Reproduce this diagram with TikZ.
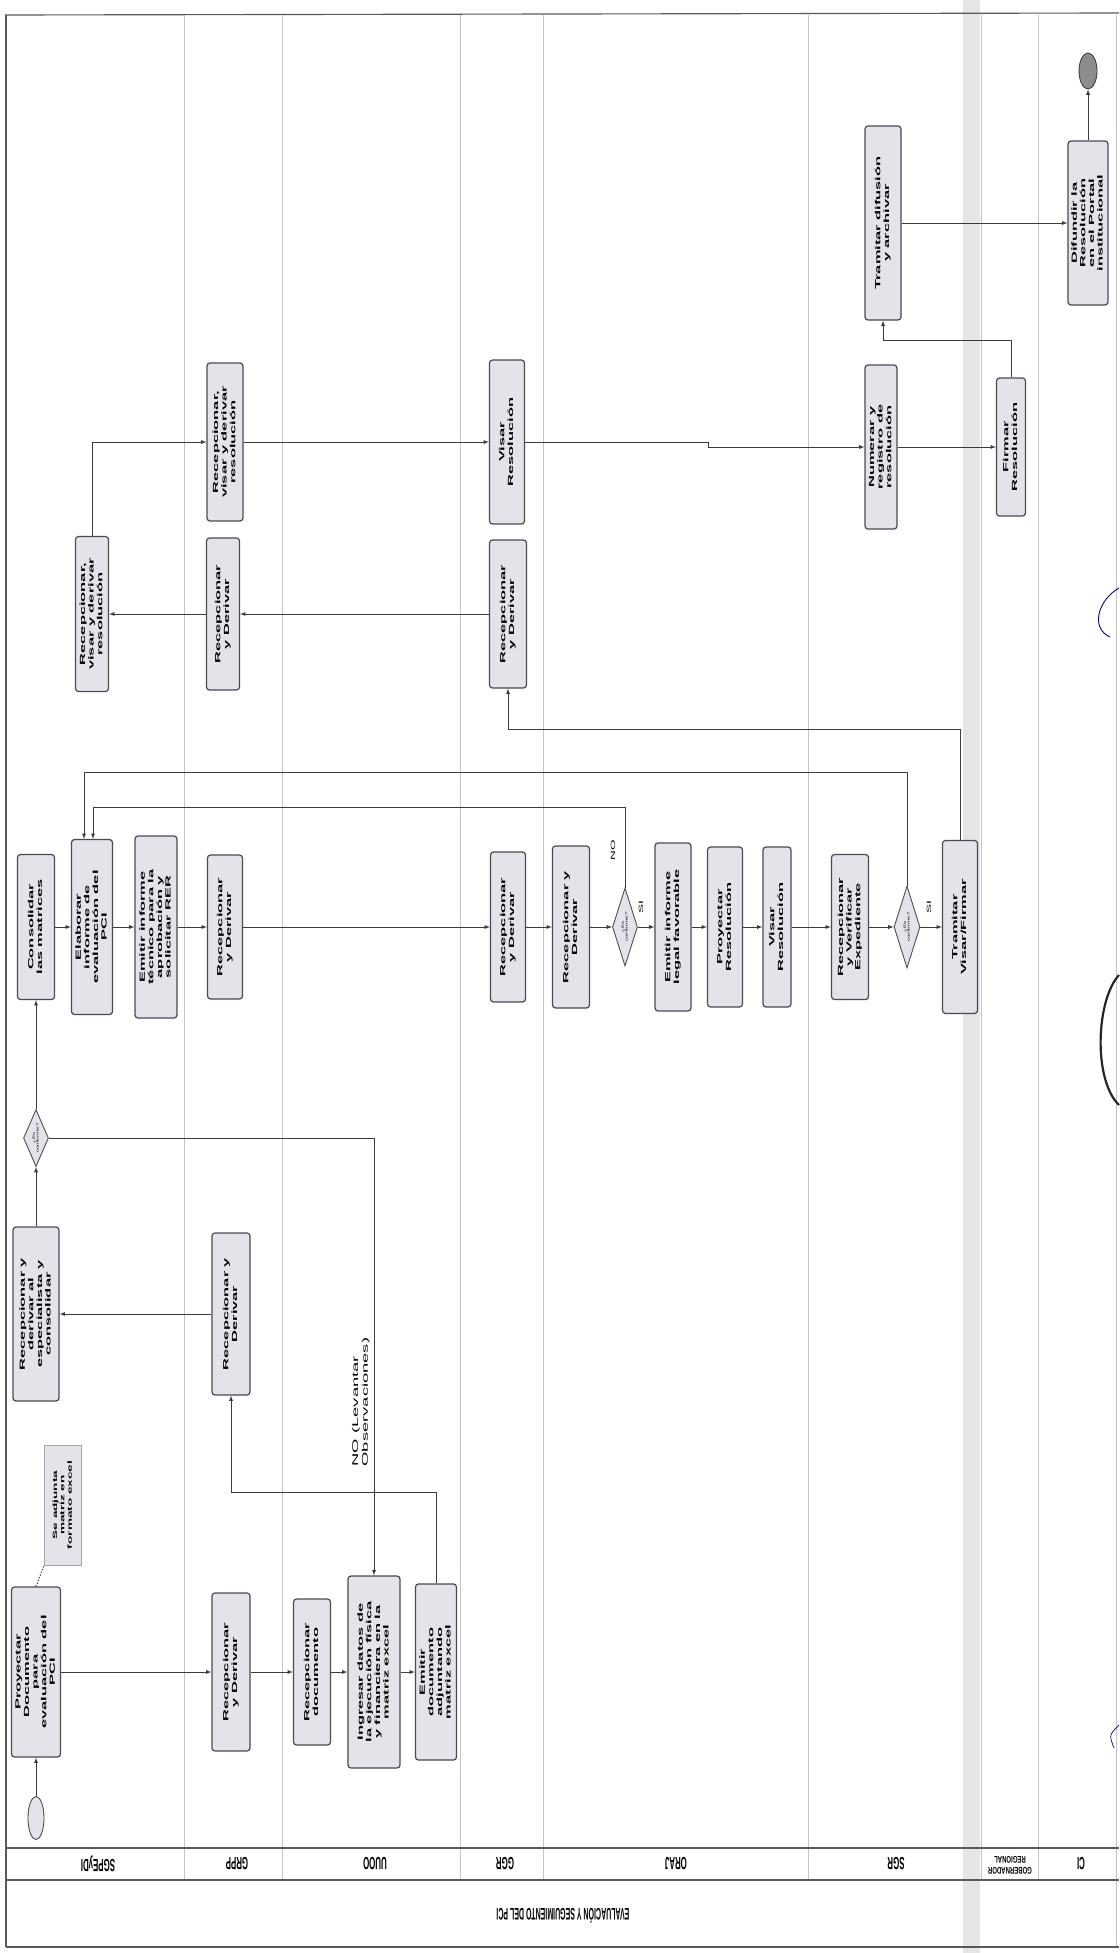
\documentclass[tikz,border=0pt]{standalone}
\usepackage{fontspec}
\setmainfont{Liberation Sans}
\usetikzlibrary{shapes.geometric}
\definecolor{boxfill}{HTML}{E3E3EA}
\definecolor{boxline}{HTML}{4A4A55}
\definecolor{lanegray}{HTML}{C2C2D2}
\definecolor{flowgray}{HTML}{3A3A42}
\tikzset{
  task/.style 2 args={draw=boxline, fill=boxfill, line width=1.4pt, rounded corners=1.2mm,
    inner sep=0pt, minimum width=#1*0.4mm, minimum height=#2*0.4mm,
    font=\bfseries\fontsize{8.5}{9.8}\selectfont},
  gate/.style 2 args={diamond, draw=boxline, fill=boxfill, line width=1pt, inner sep=0pt,
    minimum width=#1*0.4mm, minimum height=#2*0.4mm},
  event/.style 2 args={ellipse, draw=boxline, line width=1pt, inner sep=0pt,
    minimum width=#1*0.4mm, minimum height=#2*0.4mm},
  nota/.style={fill=boxfill, draw=boxline!50, line width=0.6pt, inner sep=0pt,
    minimum width=37*0.4mm, minimum height=120*0.4mm, font=\bfseries\fontsize{7}{8.4}\selectfont},
  flow/.style={-latex, draw=flowgray, line width=1.1pt},
  assoc/.style={draw=flowgray, dotted, line width=1.3pt},
  lane/.style={draw=lanegray, line width=0.9pt},
  frame/.style={draw=black!65, line width=1.3pt},
  lanetag/.style={inner sep=0pt, font=\bfseries\fontsize{20}{21}\selectfont},
  cond/.style={inner sep=0pt, font=\fontsize{7}{8}\selectfont},
}
\newcommand{\vtxt}[1]{\rotatebox{90}{\scalebox{2.2}[1]{\begin{tabular}{@{}c@{}}#1\end{tabular}}}}
\newcommand{\dtxt}[1]{\rotatebox{90}{\scalebox{2}[1]{\fontsize{3.6}{4.2}\selectfont\begin{tabular}{@{}c@{}}#1\end{tabular}}}}

\begin{document}
\begin{tikzpicture}[x=0.4mm,y=-0.4mm]
  \useasboundingbox (0,0) rectangle (1119,1953);
  \fill[white] (0,0) rectangle (1119,1953);
  \fill[black!10] (963,0) rectangle (980,1953);

  % pool and lanes
  \foreach \lx in {184,282,460,543,808,981,1038} \draw[lane] (\lx,15) -- (\lx,1880);
  \draw[lane] (1116,15) -- (1116,1947);
  \draw[frame] (5,15) -- (1119,13);
  \draw[frame] (6,15) -- (6,1947);
  \draw[frame] (6,1848) -- (1119,1848);
  \draw[frame] (6,1880) -- (1119,1880);
  \draw[frame] (6,1947) -- (1119,1947);
  \foreach \lx/\ln in {98/SGPEyDI,237/GRPP,375/UUOO,505/GGR,676/ORAJ,896/SGR,1081/CI}
    \node[lanetag] (tag\lx) at (\lx,1864) {\rotatebox{180}{\scalebox{0.45}[1]{\ln}}};
  \node[lanetag, font=\bfseries\fontsize{11}{11.5}\selectfont] (taggob) at (1010,1864)
    {\rotatebox{180}{\scalebox{0.62}[1]{\begin{tabular}{@{}c@{}}GOBERNADOR\\REGIONAL\end{tabular}}}};
  \node[lanetag, font=\bfseries\fontsize{19}{20}\selectfont] (titulo) at (563,1916)
    {\rotatebox{180}{\scalebox{0.42}[1]{EVALUACIÓN Y SEGUIMIENTO DEL PCI}}};

  % lane 1
  \node[event={16}{43}, fill=boxfill] (inicio) at (36,1818) {};
  \node[task={49}{170}] (proy) at (36,1672) {\vtxt{Proyectar\\Documento\\para\\evaluación del\\PCI}};
  \node[nota] (nota) at (63,1505) {\vtxt{Se adjunta\\matriz en\\formato excel}};
  \node[task={46}{174}] (recder) at (36,1314) {\vtxt{Recepcionar y\\derivar al\\especialista y\\consolidar}};
  \node[gate={25}{57}, label={center:\dtxt{¿Es\\conforme?}}] (gw1) at (36,1138) {};
  \node[task={37}{145}] (cons) at (36,927) {\vtxt{Consolidar\\las matrices}};
  \node[task={41}{175}] (elab) at (92,927) {\vtxt{Elaborar\\informe de\\evaluación del\\PCI}};
  \node[task={42}{182}] (emit) at (156,927) {\vtxt{Emitir informe\\técnico para la\\aprobación y\\solicitar RER}};
  \node[task={33}{155}] (recvis1) at (92,614) {\vtxt{Recepcionar,\\visar y derivar\\resolución}};

  % lane 2
  \node[task={38}{158}] (rd1) at (231,1672) {\vtxt{Recepcionar\\y Derivar}};
  \node[task={38}{162}] (rd2) at (231,1314) {\vtxt{Recepcionar y\\Derivar}};
  \node[task={35}{144}] (rd3) at (225,927) {\vtxt{Recepcionar\\y Derivar}};
  \node[task={33}{152}] (rd4) at (223,614) {\vtxt{Recepcionar\\y Derivar}};
  \node[task={36}{158}] (recvis2) at (225,442) {\vtxt{Recepcionar,\\visar y derivar\\resolución}};

  % lane 3
  \node[task={37}{146}] (recdoc) at (312,1672) {\vtxt{Recepcionar\\documento}};
  \node[task={52}{192}] (ingr) at (374,1672) {\vtxt{Ingresar datos de\\la ejecución física\\y financiera en la\\matriz excel}};
  \node[task={41}{176}] (emdoc) at (436,1672) {\vtxt{Emitir\\documento\\adjuntando\\matriz excel}};

  % lane 4
  \node[task={35}{150}] (rd5) at (508,927) {\vtxt{Recepcionar\\y Derivar}};
  \node[task={37}{148}] (rd6) at (508,614) {\vtxt{Recepcionar\\y Derivar}};
  \node[task={35}{164}] (vis1) at (507,442) {\vtxt{Visar\\Resolución}};

  % lane 5
  \node[task={37}{162}] (rd7) at (571,927) {\vtxt{Recepcionar y\\Derivar}};
  \node[gate={25}{78}, label={center:\dtxt{¿Es\\conforme?}}] (gw2) at (625,927) {};
  \node[task={36}{168}] (leg) at (673,927) {\vtxt{Emitir informe\\legal favorable}};
  \node[task={35}{160}] (proyres) at (725,927) {\vtxt{Proyectar\\Resolución}};
  \node[task={28}{160}] (vis2) at (777,927) {\vtxt{Visar\\Resolución}};

  % lane 6
  \node[task={37}{145}] (ver) at (850,927) {\vtxt{Recepcionar\\y Verificar\\Expediente}};
  \node[gate={26}{82}, label={center:\dtxt{¿Es\\conforme?}}] (gw3) at (907,927) {};
  \node[task={35}{173}] (tram) at (960,927) {\vtxt{Tramitar\\Visar/Firmar}};
  \node[task={32}{164}] (num) at (881,447) {\vtxt{Numerar y\\registro de\\resolución}};
  \node[task={36}{194}] (difu) at (883,223) {\vtxt{Tramitar difusión\\y archivar}};

  % lanes 7 and 8
  \node[task={29}{138}] (firma) at (1011,447) {\vtxt{Firmar\\Resolución}};
  \node[task={40}{164}] (dif) at (1088,223) {\vtxt{Difundir la\\Resolución\\en el Portal\\institucional}};
  \node[event={18}{36}, fill=black!45, draw=black!75] (fin) at (1088,71) {};

  % waypoints
  \coordinate (jn) at (231,1492);
  \coordinate (wpA) at (84,772);
  \coordinate (wpB) at (93,807);
  \coordinate (wpC) at (508,729);
  \coordinate (wpD) at (708,442);
  \coordinate (wpE) at (883,340);

  % flows
  \draw[flow] (inicio) -- (proy);
  \draw[assoc] (proy.north) -- (nota.south west);
  \draw[flow] (proy) -- (rd1);
  \draw[flow] (rd1) -- (recdoc);
  \draw[flow] (recdoc) -- (ingr);
  \draw[flow] (ingr) -- (emdoc);
  \draw[flow] (emdoc.north) |- (jn) -- (rd2.south);
  \draw[flow] (rd2) -- (recder);
  \draw[flow] (recder) -- (gw1);
  \draw[flow] (gw1) -- (cons);
  \draw[flow] (gw1.east) -| (ingr.north);
  \node[cond, font=\fontsize{9.5}{11}\selectfont] (obs) at (361,1402)
    {\rotatebox{90}{\scalebox{2.2}[1]{\begin{tabular}{@{}l@{}}NO (Levantar\\Observaciones)\end{tabular}}}};
  \draw[flow] (cons) -- (elab);
  \draw[flow] (elab) -- (emit);
  \draw[flow] (emit) -- (rd3);
  \draw[flow] (rd3) -- (rd5);
  \draw[flow] (rd5) -- (rd7);
  \draw[flow] (rd7) -- (gw2);
  \draw[flow] (gw2) -- (leg);
  \draw[flow] (leg) -- (proyres);
  \draw[flow] (proyres) -- (vis2);
  \draw[flow] (vis2) -- (ver);
  \draw[flow] (ver) -- (gw3);
  \draw[flow] (gw3) -- (tram);
  \node[cond] (si1) at (641,907) {\rotatebox{90}{\scalebox{2.2}[1]{SI}}};
  \node[cond] (si2) at (929,907) {\rotatebox{90}{\scalebox{2.2}[1]{SI}}};
  \node[cond] (no1) at (613,850) {\rotatebox{90}{\scalebox{2.2}[1]{NO}}};
  \draw[flow] (gw2.north) |- (wpB) -- (wpB |- elab.north);
  \draw[flow] (gw3.north) |- (wpA) -- (wpA |- elab.north);
  \draw[flow] (tram.north) |- (wpC) -- (rd6.south);
  \draw[flow] (rd6) -- (rd4);
  \draw[flow] (rd4) -- (recvis1);
  \draw[flow] (recvis1.north) |- (recvis2.west);
  \draw[flow] (recvis2) -- (vis1);
  \draw[flow] (vis1.east) -- (wpD) |- (num.west);
  \draw[flow] (num) -- (firma);
  \draw[flow] (firma.north) |- (wpE) -- (difu.south);
  \draw[flow] (difu) -- (dif);
  \draw[flow] (dif) -- (fin);

  % pen marks on the margin
  \draw[blue!60!black, line width=1pt] (1119,588) .. controls (1098,600) and (1090,628) .. (1110,637);
  \draw[black!85, line width=2.5pt] (1119,975) .. controls (1096,1000) and (1093,1080) .. (1119,1105);
  \draw[blue!60!black, line width=0.8pt] (1119,1725) .. controls (1109,1735) .. (1114,1748);
\end{tikzpicture}
\end{document}
